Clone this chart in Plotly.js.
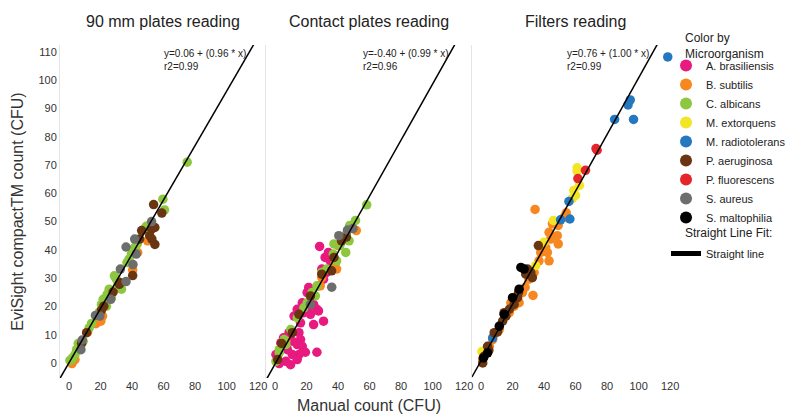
<!DOCTYPE html>
<html><head><meta charset="utf-8">
<script src="https://cdn.plot.ly/plotly-3.0.1.min.js"></script>
<style>html,body{margin:0;padding:0;background:#fff}#chart{width:787px;height:418px}</style>
</head><body><div id="chart"></div>
<script>
// ---- categories ----
const species = ['A. brasiliensis','B. subtilis','C. albicans','M. extorquens','M. radiotolerans','P. aeruginosa','P. fluorescens','S. aureus','S. maltophilia'];
const speciesColors = ['#E8197F','#F7871F','#8DC73F','#F3E526','#2378C0','#6A3511','#E4262A','#6D6D6D','#000000'];
const panelTitles = ['90 mm plates reading','Contact plates reading','Filters reading'];
const fitIntercept = [0.06, -0.40, 0.76];
const fitSlope = [0.96, 0.99, 1.00];
const fitR2 = ['0.99','0.96','0.99'];
const xTickVals = [0,20,40,60,80,100,120];
const yTickVals = [0,10,20,30,40,50,60,70,80,90,100,110];
const legendTitleColor = 'Color by<br>Microorganism';
const legendTitleFit = 'Straight Line Fit:';

// ---- panel 1: 90 mm plates ----
const p1_albicans_x = [75,59.6,60.6,49,48,43.2,41.7,39.6,38.1,36.8,28.8,30.1,33.3,25.5,24.2,21.7,20.6,19.2,17.5,14.3,12.8,5.9,4.8,3.8,2.3,0.6,1.7,6.9,9,23.8,26.9,31.2];
const p1_albicans_y = [71,57.9,54.1,48.3,47.4,42,40.9,38.5,36.7,35.5,30.8,29.6,26.1,26.1,24.3,22.5,20.7,18,16.6,14,12.4,6.9,4.7,3,1.8,0.9,1.4,5.9,7.7,20.1,23.1,27.8];
const p1_aeruginosa_x = [53.7,58.9,54.5,52.4,46.1,52.6,54.5,44.8,40.4,32,28,32.6,22.1,20.6,11.2,8,51.2];
const p1_aeruginosa_y = [56,53,47.9,47.4,46.8,43.8,41.9,43.8,30.9,27.8,25.1,28.4,20.1,18.7,10.7,6.9,45];
const p1_subtilis_x = [49.9,43.6,40.4,20.2,17.1,11.8,1.9,21.3,3.8];
const p1_subtilis_y = [43.2,39.1,32.9,14.8,13.9,10.9,-0.2,16.6,1.2];
const p1_aureus_x = [52.4,41.7,36.2,40.6,36.2,26.5,16.8,8.4,7.6,42.7,32.6,19.6];
const p1_aureus_y = [50,43.8,41,34.8,28.8,22.5,16.8,8.1,4.7,38.5,33.2,16.6];

// ---- panel 2: contact plates ----
const p2_brasiliensis_x = [28.3,31.8,33.9,35,29.7,32.8,30.8,27.6,21.4,20.4,17.3,21.4,24.5,26.6,27.6,24.5,30.8,18.3,14.1,12.1,15.2,16.2,14.1,17.3,19.3,15.2,14.1,11,26.6,9.9,6.9,5.4,3.7,1.7,2.7,0.6,7.9,11,8.9,16.2,22.5];
const p2_brasiliensis_y = [41.2,37.3,39.1,36.1,33.2,32,29.6,27.3,26.7,24.9,21.3,20.1,20.7,19,18.4,13.6,14.8,17.8,19,16.6,10.7,8.3,6.5,5.9,3.8,3,1.2,3,3.8,-0.6,0.6,8.9,7.1,1.2,-0.2,3,4.7,7.7,10.7,14.2,17.2];
const p2_subtilis_x = [51.6,40.1,39.1,28.7,38,6.9,29.7];
const p2_subtilis_y = [46.8,41.5,33.2,27.3,35,7.7,30.2];
const p2_albicans_x = [58.2,51.1,47.4,45.3,47,42.8,37.4,44.9,39.1,32.8,29.7,26.6,23.5,20.4,18.3,14.1,10,5.8,2.7,0.6,37,25.6,6.9,2.7,41.2];
const p2_albicans_y = [55.9,50.4,48.6,45.6,43.2,43.8,42.1,39.1,36.1,33.2,32,27.3,24.9,21.3,19.5,16,11.8,8.3,4.7,0.6,38.5,23.7,6.5,3.6,41.5];
const p2_aeruginosa_x = [29.7,37.4,42.2,22.5,15.2,11,4.2,1.7,35.9,45.3];
const p2_aeruginosa_y = [31.4,37.3,43.2,23.7,17.2,10.7,6.9,1.2,32.6,44.5];
const p2_aureus_x = [40.5,46,49.5,36,22.5];
const p2_aureus_y = [45,47,47.5,26.8,20.7];

// ---- panel 3: filters ----
const p3_subtilis_x = [34.3,54.1,49,45.3,43.2,48.4,44.2,49,42.1,43.2,37.9,36.8,41,33.7,33,30.5,28,26.3,24.2,21,18.9,17.9,15.8,11.6,9.5,7.4,5.3,3.2,1.1,2.1,29.5,23.2,52.6];
const p3_subtilis_y = [54.3,53.1,48.6,49.2,46.2,45,43.8,42.1,39.1,36.1,39.1,36.1,40.9,32,23.9,29.6,26.7,24.9,21.3,20.1,21.3,17.8,16.6,11.8,10.7,8.3,5.9,4.1,1.2,3,32,22.7,51.5];
const p3_extorquens_x = [61,61,58.9,60,57.9,62.5,45.9,40,34.7,0.6];
const p3_extorquens_y = [69,67.8,61,59.2,58.1,62.8,50.4,42.7,34.4,4.1];
const p3_radiotolerans_x = [118.5,94.7,93.3,84.8,96.8,55.8,56.4,50.5,7.4];
const p3_radiotolerans_y = [108.2,93,91.2,86.1,86.1,57.1,50.9,50.6,8.9];
const p3_aeruginosa_x = [36.4,29.5,31.6,28.4,32.6,23.8,23.2,21,15.8,14.7,13.7,8.4,4.2,2.1,1.1,5,10.5,18];
const p3_aeruginosa_y = [41.5,33.2,32,31.4,30.2,24.9,23.1,20.7,16.6,17.8,14.8,10.7,5.9,2.4,0,4.5,11,19];
const p3_fluorescens_x = [73,73.7,66.3,61.5];
const p3_fluorescens_y = [75.8,75.2,68.1,65.2];
const p3_maltophilia_x = [25.3,27.4,24.2,20,11.6,14.7,1.5,4.2];
const p3_maltophilia_y = [33.8,33.2,26.1,23.1,13,17.2,1.8,3.6];

// ---- assemble ----
const panelSets = [
  {1:[p1_subtilis_x,p1_subtilis_y],2:[p1_albicans_x,p1_albicans_y],5:[p1_aeruginosa_x,p1_aeruginosa_y],7:[p1_aureus_x,p1_aureus_y]},
  {0:[p2_brasiliensis_x,p2_brasiliensis_y],1:[p2_subtilis_x,p2_subtilis_y],2:[p2_albicans_x,p2_albicans_y],5:[p2_aeruginosa_x,p2_aeruginosa_y],7:[p2_aureus_x,p2_aureus_y]},
  {1:[p3_subtilis_x,p3_subtilis_y],3:[p3_extorquens_x,p3_extorquens_y],4:[p3_radiotolerans_x,p3_radiotolerans_y],5:[p3_aeruginosa_x,p3_aeruginosa_y],6:[p3_fluorescens_x,p3_fluorescens_y],8:[p3_maltophilia_x,p3_maltophilia_y]}
];
const axSuffix = ['','2','3'];
const xRange = [-5.7, 125];
const yRange = [-5.3, 112.4];
const traces = [];
species.forEach((sp, si) => {
  let shown = false;
  panelSets.forEach((set, pi) => {
    if (!set[si]) return;
    traces.push({
      type:'scatter', mode:'markers', name: sp,
      x: set[si][0], y: set[si][1],
      xaxis:'x'+axSuffix[pi], yaxis:'y'+axSuffix[pi],
      marker:{color: speciesColors[si], size: 9.5, line:{width:0}},
      legendgroup:'org', showlegend: !shown, hoverinfo:'x+y+name'
    });
    shown = true;
  });
});
fitSlope.forEach((b, pi) => {
  traces.push({
    type:'scatter', mode:'lines', name:'Straight line',
    x: xRange, y: xRange.map(v => fitIntercept[pi] + b*v),
    xaxis:'x'+axSuffix[pi], yaxis:'y'+axSuffix[pi],
    line:{color:'#000', width:1.5},
    legendgroup:'fit', showlegend: pi === 0, hoverinfo:'skip'
  });
});

const baseFont = 'Liberation Sans, Arial, sans-serif';
const tickFont = {family: baseFont, size:11, color:'#333'};
const doms = [[0,1/3],[1/3,2/3],[2/3,1]];
const layout = {
  width:787, height:418,
  margin:{l:60, r:109, t:45, b:40, autoexpand:false},
  paper_bgcolor:'#fff', plot_bgcolor:'#fff',
  font:{family: baseFont, color:'#222'},
  showlegend:true,
  legend:{x:0.9806, xanchor:'left', y:0.982, yanchor:'top', maxheight:390, font:{size:11, color:'#222'},
          itemsizing:'constant', traceorder:'grouped', tracegroupgap:17, bgcolor:'rgba(0,0,0,0)'},
  annotations:[
    {xref:'paper', yref:'paper', x:1.008, y:1.048, xanchor:'left', yanchor:'top', align:'left',
     text: legendTitleColor, showarrow:false, font:{size:12, color:'#222'}},
    {xref:'paper', yref:'paper', x:1.008, y:0.435, xanchor:'left', yanchor:'middle', align:'left',
     text: legendTitleFit, showarrow:false, font:{size:12, color:'#222'}}
  ]
};
doms.forEach((d, pi) => {
  const s = axSuffix[pi];
  layout['xaxis'+s] = {domain:d, anchor:'y'+s, range:xRange, tickvals:xTickVals, showgrid:false, zeroline:false,
    showline:false, ticks:'', tickfont:tickFont, fixedrange:true};
  layout['yaxis'+s] = {domain:[0,1], anchor:'x'+s, range:yRange, tickvals:yTickVals, showgrid:false, zeroline:false,
    showline:true, linecolor:'#e4e4e4', linewidth:1, ticks:'', tickfont:tickFont, showticklabels: pi===0, fixedrange:true};
  layout.annotations.push({xref:'x'+s+' domain', yref:'paper', x:0.5, y:1.07, xanchor:'center', yanchor:'middle',
    text: panelTitles[pi], showarrow:false, font:{size:16, color:'#222'}});
  const sign = fitIntercept[pi] < 0 ? '-' : '';
  layout.annotations.push({xref:'x'+s, yref:'y'+s, x:[59,54.6,53.3][pi], y:112, xanchor:'left', yanchor:'top', align:'left',
    text:'y=' + sign + Math.abs(fitIntercept[pi]).toFixed(2) + ' + (' + fitSlope[pi].toFixed(2) + ' * x)<br>r2=' + fitR2[pi],
    showarrow:false, font:{size:10, color:'#222'}});
});
layout.xaxis2.title = {text:'Manual count (CFU)', font:{size:16, color:'#333'}, standoff:8};
layout.yaxis.title = {text:'EviSight compactTM count (CFU)', font:{size:16, color:'#333'}, standoff:10};

Plotly.newPlot('chart', traces, layout, {displayModeBar:false, staticPlot:true});
</script></body></html>
